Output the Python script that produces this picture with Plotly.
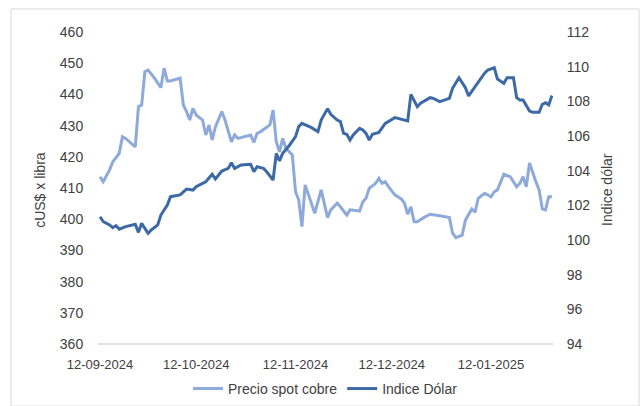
import plotly.graph_objects as go

# ---- data ----
cobre_dates = [
    "2024-09-12", "2024-09-13", "2024-09-15", "2024-09-16", "2024-09-18", "2024-09-19",
    "2024-09-20", "2024-09-23", "2024-09-24", "2024-09-25", "2024-09-26", "2024-09-27",
    "2024-09-29", "2024-10-01", "2024-10-02", "2024-10-03", "2024-10-04", "2024-10-07",
    "2024-10-08", "2024-10-09", "2024-10-10", "2024-10-11", "2024-10-12", "2024-10-14",
    "2024-10-15", "2024-10-16", "2024-10-17", "2024-10-18", "2024-10-20", "2024-10-21",
    "2024-10-23", "2024-10-24", "2024-10-25", "2024-10-29", "2024-10-30", "2024-10-31",
    "2024-11-01", "2024-11-04", "2024-11-05", "2024-11-06", "2024-11-07", "2024-11-08",
    "2024-11-09", "2024-11-11", "2024-11-12", "2024-11-13", "2024-11-14", "2024-11-15",
    "2024-11-18", "2024-11-20", "2024-11-22", "2024-11-23", "2024-11-25", "2024-11-26",
    "2024-11-28", "2024-11-29", "2024-12-02", "2024-12-03", "2024-12-04", "2024-12-05",
    "2024-12-07", "2024-12-08", "2024-12-09", "2024-12-10", "2024-12-11", "2024-12-13",
    "2024-12-15", "2024-12-16", "2024-12-17", "2024-12-18", "2024-12-19", "2024-12-20",
    "2024-12-22", "2024-12-24", "2024-12-27", "2024-12-30", "2024-12-31", "2025-01-01",
    "2025-01-03", "2025-01-04", "2025-01-06", "2025-01-07", "2025-01-08", "2025-01-10",
    "2025-01-12", "2025-01-13", "2025-01-14", "2025-01-16", "2025-01-18", "2025-01-20",
    "2025-01-21", "2025-01-22", "2025-01-23", "2025-01-24", "2025-01-26", "2025-01-27",
    "2025-01-28", "2025-01-29", "2025-01-30", "2025-01-31",
]
cobre_values = [
    413.6, 412.0, 415.8, 418.4, 421.1, 426.4,
    425.9, 423.2, 436.1, 436.6, 447.3, 447.8,
    445.2, 442.2, 448.4, 444.3, 444.3, 445.2,
    436.6, 434.5, 431.8, 435.5, 433.4, 431.8,
    427.0, 430.2, 425.4, 429.6, 434.5, 431.8,
    424.8, 427.0, 425.9, 427.0, 424.6, 427.5,
    428.0, 430.2, 435.0, 424.8, 421.6, 425.9,
    422.7, 420.6, 408.8, 406.2, 397.6, 411.0,
    401.9, 409.4, 400.5, 403.0, 405.1, 404.0,
    401.3, 403.0, 402.6, 405.6, 406.7, 409.9,
    411.5, 413.1, 411.5, 412.0, 410.4, 407.8,
    406.5, 405.1, 401.6, 404.0, 399.2, 399.2,
    400.5, 401.6, 401.1, 400.5, 395.5, 394.1,
    394.9, 399.7, 403.3, 402.2, 406.7, 408.3,
    407.2, 408.8, 409.4, 414.4, 413.6, 410.4,
    411.5, 413.6, 410.4, 418.0, 412.0, 409.4,
    403.3, 403.0, 407.2, 407.2,
]

dolar_dates = [
    "2024-09-12", "2024-09-13", "2024-09-15", "2024-09-16", "2024-09-17", "2024-09-18",
    "2024-09-20", "2024-09-23", "2024-09-24", "2024-09-25", "2024-09-27", "2024-09-28",
    "2024-09-30", "2024-10-01", "2024-10-03", "2024-10-04", "2024-10-07", "2024-10-09",
    "2024-10-11", "2024-10-12", "2024-10-14", "2024-10-15", "2024-10-17", "2024-10-18",
    "2024-10-20", "2024-10-22", "2024-10-23", "2024-10-24", "2024-10-26", "2024-10-29",
    "2024-10-30", "2024-10-31", "2024-11-02", "2024-11-03", "2024-11-05", "2024-11-06",
    "2024-11-07", "2024-11-08", "2024-11-10", "2024-11-12", "2024-11-13", "2024-11-14",
    "2024-11-17", "2024-11-19", "2024-11-20", "2024-11-22", "2024-11-23", "2024-11-25",
    "2024-11-26", "2024-11-27", "2024-11-28", "2024-11-29", "2024-11-30", "2024-12-02",
    "2024-12-03", "2024-12-04", "2024-12-05", "2024-12-06", "2024-12-08", "2024-12-10",
    "2024-12-13", "2024-12-14", "2024-12-17", "2024-12-18", "2024-12-20", "2024-12-21",
    "2024-12-24", "2024-12-25", "2024-12-27", "2024-12-30", "2024-12-31", "2025-01-02",
    "2025-01-04", "2025-01-05", "2025-01-07", "2025-01-08", "2025-01-10", "2025-01-11",
    "2025-01-13", "2025-01-14", "2025-01-15", "2025-01-16", "2025-01-17", "2025-01-19",
    "2025-01-20", "2025-01-21", "2025-01-22", "2025-01-24", "2025-01-25", "2025-01-27",
    "2025-01-28", "2025-01-29", "2025-01-30", "2025-01-31",
]
dolar_values = [
    101.34, 101.06, 100.87, 100.71, 100.83, 100.62,
    100.77, 100.91, 100.44, 100.96, 100.39, 100.58,
    100.87, 101.44, 102.02, 102.50, 102.60, 102.94,
    102.88, 103.08, 103.27, 103.36, 103.79, 103.52,
    103.98, 104.13, 104.46, 104.13, 104.33, 104.37,
    103.94, 104.23, 104.13, 103.94, 103.46, 105.00,
    104.56, 105.00, 105.44, 105.96, 106.54, 106.73,
    106.48, 106.25, 106.92, 107.58, 107.25, 106.92,
    106.83, 106.15, 106.10, 105.77, 106.06, 106.44,
    106.35, 106.15, 105.77, 106.10, 106.21, 106.73,
    107.06, 107.02, 106.87, 108.40, 107.69, 107.89,
    108.21, 108.17, 107.98, 108.17, 108.75, 109.36,
    108.79, 108.31, 108.84, 109.13, 109.62, 109.81,
    109.94, 109.29, 109.17, 109.04, 109.36, 109.36,
    108.21, 108.08, 108.08, 107.44, 107.37, 107.37,
    107.83, 107.92, 107.79, 108.33,
]

x_tick_dates = ["2024-09-12", "2024-10-12", "2024-11-12", "2024-12-12", "2025-01-12"]
x_tick_labels = ["12-09-2024", "12-10-2024", "12-11-2024", "12-12-2024", "12-01-2025"]

series_names = ["Precio spot cobre", "Indice Dólar"]
left_title = "cUS$ x libra"
right_title = "Indice dólar"

# ---- styling ----
LIGHT = "#8eaadb"
DARK = "#3d6aa5"
TXT = "#404040"
FONT = "Liberation Sans"

fig = go.Figure()
fig.add_trace(go.Scatter(x=cobre_dates, y=cobre_values, name=series_names[0],
                         mode="lines", line=dict(color=LIGHT, width=3), yaxis="y"))
fig.add_trace(go.Scatter(x=dolar_dates, y=dolar_values, name=series_names[1],
                         mode="lines", line=dict(color=DARK, width=3), yaxis="y2"))

fig.update_layout(
    width=641, height=406,
    margin=dict(l=98, r=88, t=32, b=62, autoexpand=False),
    paper_bgcolor="white", plot_bgcolor="white",
    font=dict(family=FONT, size=13, color=TXT),
    showlegend=True,
    legend=dict(orientation="h", x=0.5, xanchor="center",
                yref="container", y=0.042, yanchor="middle",
                font=dict(size=14, color=TXT), itemwidth=30, tracegroupgap=0,
                bgcolor="rgba(0,0,0,0)"),
    xaxis=dict(type="date", range=["2024-09-11 09:00", "2025-01-31 08:00"],
               tickvals=x_tick_dates, ticktext=x_tick_labels,
               showgrid=False, zeroline=False, showline=False, automargin=False,
               ticks="outside", ticklen=8, tickcolor="rgba(0,0,0,0)",
               tickfont=dict(size=13, color=TXT)),
    yaxis=dict(range=[360, 460], dtick=10, showgrid=False, zeroline=False,
               showline=False, ticks="outside", ticklen=11, automargin=False,
               tickcolor="rgba(0,0,0,0)", tickfont=dict(size=14, color=TXT)),
    yaxis2=dict(range=[94, 112], dtick=2, overlaying="y", side="right",
                showgrid=False, zeroline=False, showline=False, ticks="outside",
                ticklen=10, tickcolor="rgba(0,0,0,0)", automargin=False,
                tickfont=dict(size=14, color=TXT)),
    shapes=[
        dict(type="line", xref="paper", yref="paper", x0=0, x1=1, y0=0, y1=0,
             line=dict(color="#d9d9d9", width=1.5), layer="below"),
        dict(type="rect", xref="paper", yref="paper", x0=-0.1912, x1=1.189,
             y0=-0.199, y1=1.0737, line=dict(color="#d9d9d9", width=1),
             layer="below"),
    ],
    annotations=[
        dict(text=left_title, xref="paper", yref="paper", x=-0.1275, y=0.494,
             textangle=-90, showarrow=False, font=dict(size=14, color=TXT),
             xanchor="center", yanchor="middle"),
        dict(text=right_title, xref="paper", yref="paper", x=1.1187, y=0.494,
             textangle=-90, showarrow=False, font=dict(size=14, color=TXT),
             xanchor="center", yanchor="middle"),
    ],
)

fig.write_html("out.html", config={"displayModeBar": False},
               post_script="document.body.style.margin='0';document.body.style.overflow='hidden';")
